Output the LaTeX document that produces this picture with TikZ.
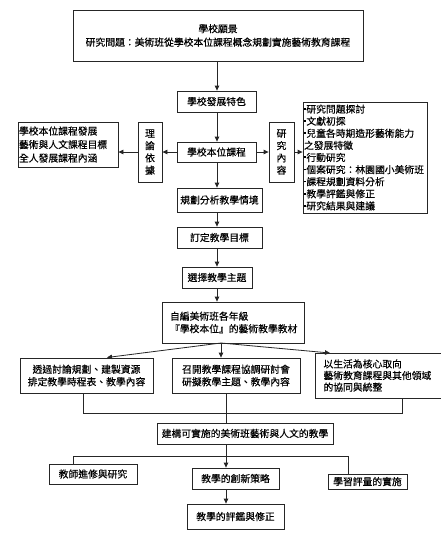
\documentclass[tikz,border=0pt]{standalone}
\usepackage{fontspec}
\newfontfamily\cjk{Noto Sans CJK TC}[FakeBold=0.3]
\usetikzlibrary{arrows.meta}
\newcommand\bul{\rule[3pt]{1.8pt}{1.8pt}\hspace{0.6pt}}
\begin{document}
\begin{tikzpicture}[x=1pt,y=-1pt,
 bx/.style={draw=black!85, line width=0.8pt, inner sep=0pt, font=\cjk\fontsize{9.8}{13.5}\selectfont, align=center},
 arr/.style={draw=black!85, line width=0.8pt, -{Triangle[width=4.5pt,length=5pt]}},
 ln/.style={draw=black!85, line width=0.8pt}]
\fill[white] (0,0) rectangle (441,542);
\useasboundingbox (0,0) rectangle (441,542);
\coordinate (colx) at (217,0);
\coordinate (lowx) at (226,0);
% main column
\node[bx, minimum width=290, minimum height=51] (top) at (218,35.5) {學校願景\\研究問題：美術班從學校本位課程概念規劃實施藝術教育課程};
\node[bx, minimum width=79, minimum height=21] (n1) at (216.5,101.5) {學校發展特色};
\node[bx, minimum width=79, minimum height=20] (n2) at (216.5,152) {學校本位課程};
\node[bx, minimum width=85, minimum height=24] (n3) at (219.5,200) {規劃分析教學情境};
\node[bx, minimum width=85, minimum height=21] (n4) at (219.5,237.5) {訂定教學目標};
\node[bx, minimum width=70, minimum height=21] (n5) at (217,277.5) {選擇教學主題};
\node[bx, minimum width=142, minimum height=41, text width=126, inner xsep=8, align=left, font=\cjk\fontsize{9.8}{12.5}\selectfont] (n6) at (233,322.5) {自編美術班各年級\\『學校本位』的藝術教學教材};
% side boxes
\node[bx, minimum width=24, minimum height=60, font=\cjk\fontsize{9.8}{12.3}\selectfont] (T) at (150,152) {理\\論\\依\\據};
\node[bx, minimum width=25, minimum height=60, font=\cjk\fontsize{9.8}{12.3}\selectfont] (R) at (281.5,152) {研\\究\\內\\容};
\node[bx, minimum width=100, minimum height=45, text width=98, inner xsep=1, align=left] (L) at (68,144.5) {學校本位課程發展\\藝術與人文課程目標\\全人發展課程內涵};
\node[bx, minimum width=124, minimum height=111, text width=122, inner xsep=1, align=left, font=\cjk\fontsize{9.8}{12.1}\selectfont] (list) at (365,157.5) {{\bul}研究問題探討\\{\bul}文獻初探\\{\bul}兒童各時期造形藝術能力\\之發展特徵\\{\bul}行動研究\\{\bul}個案研究：林園國小美術班\\{\bul}課程規劃資料分析\\{\bul}教學評鑑與修正\\{\bul}研究結果與建議};
% three boxes
\node[bx, minimum width=133, minimum height=35, font=\cjk\fontsize{9.8}{12.5}\selectfont] (b1) at (86.5,375.5) {透過討論規劃、建製資源\\排定教學時程表、教學內容};
\node[bx, minimum width=128, minimum height=35, font=\cjk\fontsize{9.8}{12.5}\selectfont] (b2) at (236,375.5) {召開教學課程協調研討會\\研擬教學主題、教學內容};
\node[bx, minimum width=122, minimum height=45, text width=113, inner xsep=8, align=left, font=\cjk\fontsize{9.8}{11.6}\selectfont] (b3) at (380,375.5) {以生活為核心取向\\藝術教育課程與其他領域\\的協同與統整};
\node[bx, minimum width=176, minimum height=21] (c) at (245,433.5) {建構可實施的美術班藝術與人文的教學};
\node[bx, minimum width=88, minimum height=20] (d1) at (93,474) {教師進修與研究};
\node[bx, minimum width=87, minimum height=21] (d2) at (235.5,478.5) {教學的創新策略};
\node[bx, minimum width=79, minimum height=15] (d3) at (367.5,481.5) {學習評量的實施};
\node[bx, minimum width=97, minimum height=25] (e) at (235.5,516.5) {教學的評鑑與修正};
% column arrows
\draw[arr] (top.south -| colx) -- (n1.north -| colx);
\draw[arr] (n1.south -| colx) -- (n2.north -| colx);
\draw[arr] (n2.south -| colx) -- (n3.north -| colx);
\draw[arr] (n3.south -| colx) -- (n4.north -| colx);
\draw[arr] (n4.south -| colx) -- (n5.north -| colx);
\draw[arr] (n5.south -| colx) -- (n6.north -| colx);
% side arrows
\draw[arr] (n2.west) -- (T.east |- n2.west);
\draw[arr] (T.west |- n2.west) -- (L.east |- n2.west);
\draw[arr] (n2.east) -- (R.west |- n2.east);
\draw[arr] (R.east |- n2.east) -- (list.west |- n2.east);
% fan
\coordinate (fan) at (221,343);
\draw[arr] (fan) -- (107,357.5);
\draw[arr] (fan) -- (b2.north -| fan);
\draw[arr] (fan) -- (330,353);
% merge
\coordinate (mL) at (83,413);
\coordinate (mR) at (402,413);
\draw[ln] (b1.south -| mL) -- (mL) -- (mR) -- (b3.south -| mR);
\draw[ln] (b2.south -| lowx) -- (c.north -| lowx);
% branch
\coordinate (bL) at (73,456);
\coordinate (bR) at (348,456);
\draw[ln] (c.south -| lowx) -- (bL -| lowx);
\draw[ln] (d1.north -| bL) -- (bL) -- (bR) -- (d3.north -| bR);
\draw[arr] (bL -| lowx) -- (d2.north -| lowx);
\draw[arr] (d2.south -| lowx) -- (e.north -| lowx);
\end{tikzpicture}
\end{document}
